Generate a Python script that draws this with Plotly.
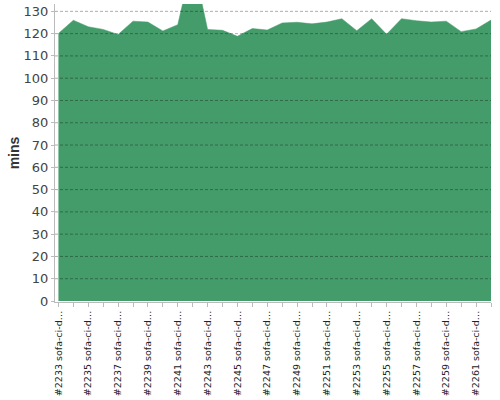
import plotly.graph_objects as go

# builds, one per category
build_ids = list(range(2233, 2263))
categories = ["#%d sofa-ci-d…" % b for b in build_ids]
mins = [120.1, 126.0, 123.1, 121.9, 119.6, 125.6, 125.2, 121.2, 124.0, 153.0,
        121.9, 121.5, 118.8, 122.3, 121.6, 124.8, 125.1, 124.4, 125.2, 126.7,
        121.3, 126.7, 119.7, 126.7, 125.8, 125.2, 125.6, 120.9, 122.1, 126.1]
y_ticks = list(range(0, 131, 10))

# only every other category gets a label
tick_text = [c if i % 2 == 0 else "" for i, c in enumerate(categories)]

fig = go.Figure()
fig.add_trace(go.Scatter(
    x=categories, y=mins,
    mode="lines",
    fill="tozeroy",
    fillcolor="#449c6b",
    line=dict(color="#449c6b", width=0.5),
    hoverinfo="x+y",
))

# dashed grid lines drawn above the area
for v in y_ticks:
    if v == 0:
        continue
    fig.add_shape(type="line", xref="paper", x0=0, x1=1, yref="y", y0=v, y1=v,
                  layer="above",
                  line=dict(color="rgba(0,0,0,0.32)", width=1, dash="3px,2px"))

fig.update_layout(
    width=500, height=400,
    margin=dict(l=55, r=9, t=4, b=98),
    paper_bgcolor="white", plot_bgcolor="white",
    showlegend=False,
    font=dict(family="DejaVu Sans", color="#333"),
    xaxis=dict(
        type="category",
        automargin=False,
        range=[-0.23, len(categories) - 1],
        tickmode="array", tickvals=categories, ticktext=tick_text,
        tickangle=-90,
        tickfont=dict(size=9.5, color="#222"),
        ticks="outside", ticklen=4, tickcolor="#bbb",
        showline=True, linecolor="#bbb", linewidth=1,
        showgrid=False, zeroline=False,
    ),
    yaxis=dict(
        automargin=False,
        range=[-0.45, 133.3],
        tickvals=y_ticks,
        tickfont=dict(size=13, color="#444"),
        ticks="outside", ticklen=3, tickcolor="#bbb",
        showline=True, linecolor="#bbb", linewidth=1,
        showgrid=False, zeroline=False,
        title=dict(text="<b>mins</b>",
                   font=dict(family="Liberation Sans", size=14, color="#333"),
                   standoff=0),
    ),
)

# page body margin would shift the chart by 8px
fig.write_html("out.html", config={"displayModeBar": False},
               post_script="document.body.style.margin='0';")
